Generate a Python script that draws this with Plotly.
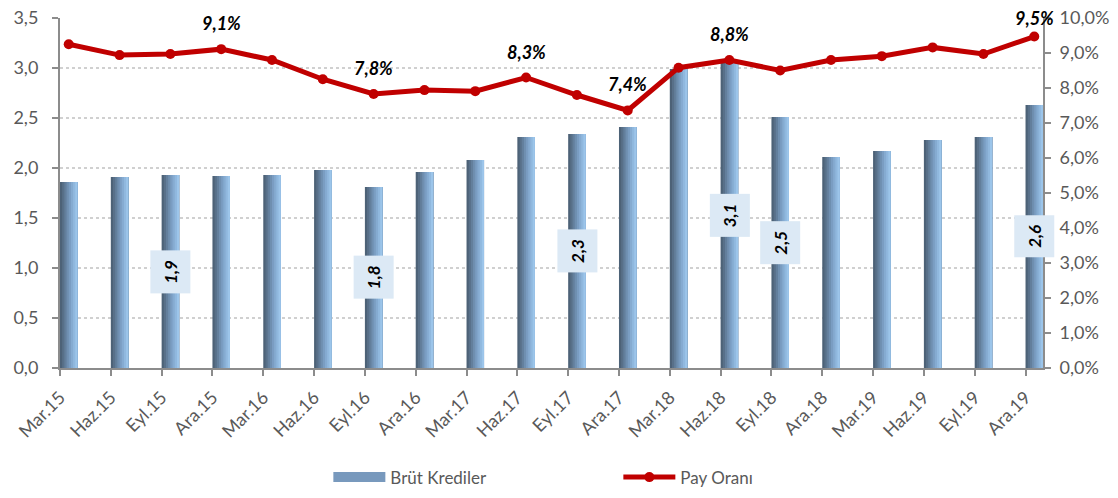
import plotly.graph_objects as go

categories = ["Mar.15", "Haz.15", "Eyl.15", "Ara.15", "Mar.16", "Haz.16", "Eyl.16", "Ara.16",
              "Mar.17", "Haz.17", "Eyl.17", "Ara.17", "Mar.18", "Haz.18", "Eyl.18", "Ara.18",
              "Mar.19", "Haz.19", "Eyl.19", "Ara.19"]
brut_krediler = [1.86, 1.91, 1.93, 1.92, 1.93, 1.98, 1.81, 1.96, 2.08, 2.31, 2.34, 2.41,
                 2.99, 3.06, 2.51, 2.11, 2.17, 2.28, 2.31, 2.63]
pay_orani = [9.25, 8.94, 8.97, 9.11, 8.80, 8.25, 7.83, 7.94, 7.91, 8.30, 7.80, 7.36,
             8.58, 8.80, 8.50, 8.80, 8.91, 9.16, 8.97, 9.47]
bar_label_idx = [2, 6, 10, 13, 14, 19]
line_label_idx = [3, 6, 9, 11, 13, 19]

FONT = "Lato"
GRAY = "#595959"
AXIS = "#8c8c8c"

W, H = 1118, 498
M = dict(l=52, r=83, t=10, b=129)
Y2MAX = 10
plot_h = H - M["t"] - M["b"]

n = len(categories)
xs = list(range(n))
BW = 0.344
strips = ["#4d6277", "#587089", "#637f9c", "#6f8fb0", "#7a9dc2", "#85abd1", "#90b8de", "#9cc5ea"]
ns = len(strips)

fig = go.Figure()
for k, c in enumerate(strips):
    fig.add_trace(go.Bar(
        x=xs, y=brut_krediler, width=BW * (ns - k) / ns, offset=k * BW / ns,
        marker=dict(color=c, line=dict(width=0)),
        name="Brüt Krediler", showlegend=False, hoverinfo="skip",
    ))
# legend entry for bars (drawn as a thick line sample)
fig.add_trace(go.Scatter(x=[None], y=[None], mode="lines", name="Brüt Krediler",
                         line=dict(color="#7899bd", width=12), showlegend=True))

fig.add_trace(go.Scatter(
    x=[i + BW / 2 for i in xs], y=pay_orani, yaxis="y2", mode="lines+markers",
    name="Pay Oranı", line=dict(color="#c00000", width=5),
    marker=dict(color="#c00000", size=10),
))

annotations = []
for i in bar_label_idx:
    annotations.append(dict(
        x=i + BW / 2, y=brut_krediler[i] / 2, xref="x", yref="y",
        text=f"<b><i>{brut_krediler[i]:.1f}</i></b>".replace(".", ","),
        textangle=-90, showarrow=False, bgcolor="#dce9f5", borderpad=9,
        font=dict(family=FONT, size=17, color="black"),
    ))
for i in line_label_idx:
    # keep the label inside the page: cap the lift near the top edge
    room = (Y2MAX - pay_orani[i]) / Y2MAX * plot_h + M["t"] - 10
    annotations.append(dict(
        x=i + BW / 2, y=pay_orani[i], xref="x", yref="y2", yshift=min(26, room),
        text=f"<b><i>{pay_orani[i]:.1f}%</i></b>".replace(".", ","),
        showarrow=False, font=dict(family=FONT, size=18, color="black"),
    ))

# the page body adds an 8px offset; margins compensate so the plot lands where the reference has it
fig.update_layout(
    width=W, height=H,
    margin=M,
    paper_bgcolor="white", plot_bgcolor="white",
    barmode="overlay", separators=",.",
    font=dict(family=FONT, size=18, color=GRAY),
    showlegend=True,
    legend=dict(orientation="h", x=0.273, xanchor="left", y=-0.313, yanchor="middle",
                entrywidth=223, entrywidthmode="pixels", itemwidth=52,
                font=dict(family=FONT, size=17, color=GRAY)),
    xaxis=dict(range=[0, n - 1 + BW], tickvals=xs, ticktext=categories, tickangle=-45,
               showline=True, linecolor=AXIS, linewidth=2, ticks="outside", ticklen=6,
               tickcolor=AXIS, tickwidth=2, showgrid=False, zeroline=False, automargin=False,
               ticklabelstandoff=4, ticklabeloverflow="allow",
               tickfont=dict(family=FONT, size=18, color=GRAY)),
    yaxis=dict(range=[0, 3.5], dtick=0.5, tickformat=".1f", showline=True, linecolor=AXIS,
               linewidth=2, ticks="outside", ticklen=6, tickcolor=AXIS, tickwidth=2,
               showgrid=True, gridcolor="#d0d0d0", griddash="dot", gridwidth=1.5,
               zeroline=False, automargin=False, ticklabelstandoff=10,
               ticklabeloverflow="allow",
               tickfont=dict(family=FONT, size=18, color=GRAY)),
    yaxis2=dict(range=[0, Y2MAX], dtick=1, tickformat=".1f", ticksuffix="%", overlaying="y",
                side="right", showline=True, linecolor=AXIS, linewidth=2, ticks="outside",
                ticklen=6, tickcolor=AXIS, tickwidth=2, showgrid=False, zeroline=False,
                automargin=False, ticklabelstandoff=5, ticklabeloverflow="allow",
                tickfont=dict(family=FONT, size=18, color=GRAY)),
    annotations=annotations,
)

fig.write_html("out.html")
